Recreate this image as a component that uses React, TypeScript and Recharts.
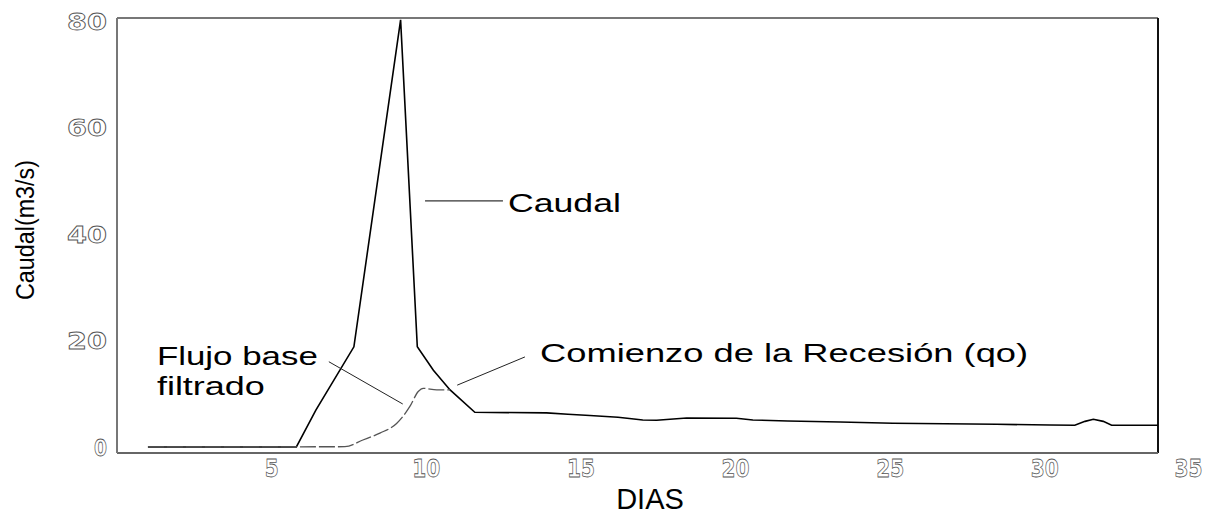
import { LineChart, Line, XAxis, YAxis, ReferenceLine, ReferenceDot } from 'recharts'

// hidrograma: caudal observado (dias, m3/s)
const caudalDias = [1, 5.8, 6.43, 7.66, 9.17, 9.71, 10.23, 10.77, 11.57, 13.89, 14.58, 15.29, 16.2, 16.64, 17.0, 17.45, 17.88, 18.42, 20.03, 20.56, 21.69, 23.38, 25.09, 26.77, 28.44, 30.16, 30.97, 31.3, 31.57, 31.89, 32.16, 33.66]
const caudalQ = [0.2, 0.2, 7.1, 19.0, 80.4, 19.0, 14.6, 10.9, 6.7, 6.6, 6.35, 6.1, 5.77, 5.5, 5.26, 5.2, 5.4, 5.63, 5.58, 5.26, 5.07, 4.88, 4.64, 4.56, 4.45, 4.32, 4.26, 5.0, 5.39, 5.0, 4.26, 4.26]

// flujo base filtrado
const baseDias = [1, 7.37, 7.95, 8.5, 9.04, 9.47, 9.74, 9.9, 10.34, 10.77]
const baseQ = [0.2, 0.24, 1.5, 2.8, 4.6, 7.8, 10.6, 11.2, 10.9, 10.9]

const xTicks = [5, 10, 15, 20, 25, 30, 35]
const yTicks = [0, 20, 40, 60, 80]

const caudalData = caudalDias.map((d, i) => ({ dia: d, q: caudalQ[i] }))
const baseData = baseDias.map((d, i) => ({ dia: d, q: baseQ[i] }))

const X_MAX = 33.66
const Y_MIN = -0.94
const Y_MAX = 80.75

const textFont = '"Liberation Sans", Arial, sans-serif'
const tickFont = '"DejaVu Sans", sans-serif'

const XTick = ({ x, y, payload }: any) => {
  const s = String(payload.value)
  const last = payload.value === 35
  return (
    <text
      x={last ? x + 3 : x}
      y={y + 22}
      textAnchor={last ? 'end' : 'middle'}
      fontFamily={tickFont}
      fontWeight="bold"
      fontSize={25}
      fill="#fff"
      stroke="#555"
      strokeWidth={0.8}
      textLength={s.length * 14}
      lengthAdjust="spacingAndGlyphs"
    >
      {s}
    </text>
  )
}

const YTick = ({ x, y, payload }: any) => {
  const s = String(payload.value)
  return (
    <text
      x={x}
      y={y + 8}
      textAnchor="end"
      fontFamily={tickFont}
      fontWeight="bold"
      fontSize={23}
      fill="#fff"
      stroke="#555"
      strokeWidth={0.8}
      textLength={s.length > 1 ? s.length * 20 : 13}
      lengthAdjust="spacingAndGlyphs"
    >
      {s}
    </text>
  )
}

const note = (txt: string, len: number) => (p: any) => (
  <text
    x={p.cx}
    y={p.cy}
    fontFamily={textFont}
    fontSize={25}
    fill="#000"
    textLength={len}
    lengthAdjust="spacingAndGlyphs"
  >
    {txt}
  </text>
)

export default function App() {
  return (
    <div style={{ position: 'absolute', left: 0, top: 0, background: '#fff' }}>
      <LineChart width={1212} height={514} data={caudalData} margin={{ top: 18, right: 54, bottom: 0, left: 0 }}>
        <XAxis
          dataKey="dia"
          type="number"
          domain={[0, X_MAX]}
          allowDataOverflow
          ticks={xTicks}
          interval={0}
          tick={<XTick />}
          tickLine={false}
          tickSize={0}
          height={61}
          axisLine={{ stroke: '#666', strokeWidth: 2 }}
          label={{
            content: ({ viewBox }: any) => (
              <text x={viewBox.x + 533} y={viewBox.y + 56} textAnchor="middle" fontFamily={textFont} fontSize={29} fill="#000">
                DIAS
              </text>
            ),
          }}
        />
        <YAxis
          type="number"
          domain={[Y_MIN, Y_MAX]}
          allowDataOverflow
          ticks={yTicks}
          interval={0}
          tick={<YTick />}
          tickLine={false}
          tickSize={0}
          tickMargin={10}
          width={117}
          axisLine={{ stroke: '#777', strokeWidth: 2 }}
          label={{
            content: ({ viewBox }: any) => (
              <text
                x={0}
                y={0}
                transform={`translate(${viewBox.x + 34}, ${viewBox.y + 212}) rotate(-90)`}
                textAnchor="middle"
                fontFamily={textFont}
                fontSize={25}
                fill="#000"
                textLength={140}
                lengthAdjust="spacingAndGlyphs"
              >
                Caudal(m3/s)
              </text>
            ),
          }}
        />

        {/* marco superior y derecho */}
        <ReferenceLine y={Y_MAX} stroke="#777" strokeWidth={2} />
        <ReferenceLine x={X_MAX} stroke="#111" strokeWidth={2} />

        <Line data={caudalData} dataKey="q" type="linear" stroke="#000" strokeWidth={1.6} dot={false} isAnimationActive={false} />
        <Line data={baseData} dataKey="q" type="monotone" stroke="#555" strokeWidth={1.3} strokeDasharray="16 3" dot={false} isAnimationActive={false} />

        {/* anotaciones */}
        <ReferenceLine segment={[{ x: 9.96, y: 46.4 }, { x: 12.48, y: 46.4 }]} stroke="#000" strokeWidth={1} />
        <ReferenceLine segment={[{ x: 6.85, y: 16.2 }, { x: 9.24, y: 8.26 }]} stroke="#222" strokeWidth={1} />
        <ReferenceLine segment={[{ x: 13.19, y: 17.1 }, { x: 11.0, y: 11.8 }]} stroke="#222" strokeWidth={1} />
        <ReferenceDot x={12.64} y={44.4} r={0} shape={note('Caudal', 113)} />
        <ReferenceDot x={1.29} y={15.6} r={0} shape={note('Flujo base', 161)} />
        <ReferenceDot x={1.29} y={9.95} r={0} shape={note('filtrado', 108)} />
        <ReferenceDot x={13.68} y={16.2} r={0} shape={note('Comienzo de la Recesión (qo)', 488)} />
      </LineChart>
    </div>
  )
}
